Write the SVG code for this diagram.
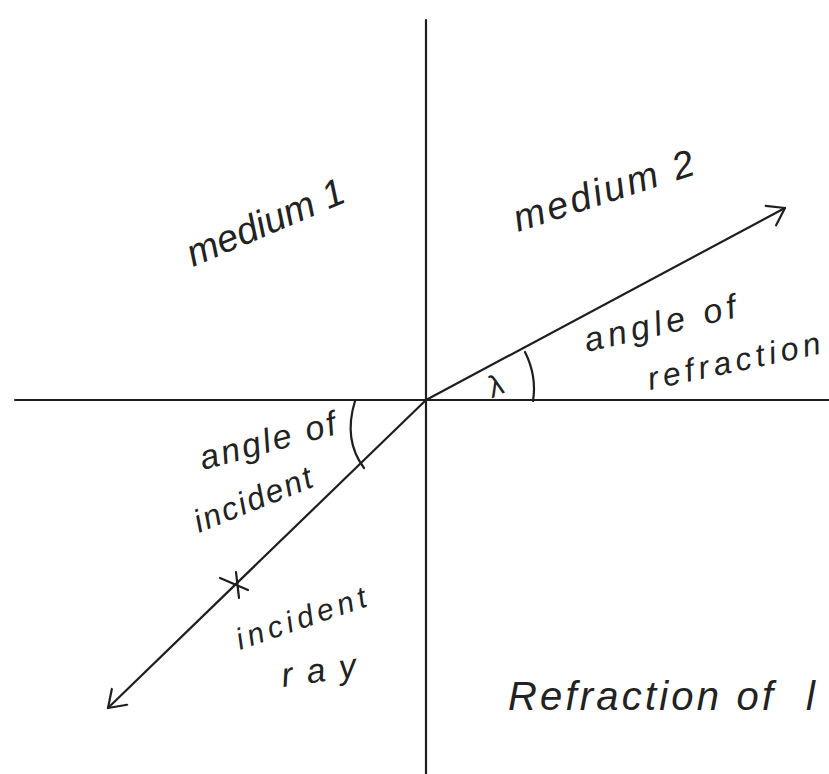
<svg xmlns="http://www.w3.org/2000/svg" width="829" height="774" viewBox="0 0 829 774">
<style>
.ln{stroke:#1e1e1e;stroke-width:2.2;fill:none;stroke-linecap:round;stroke-linejoin:round}
.lbl{font-family:"Liberation Sans",Arial,sans-serif;fill:#222;font-style:italic}
</style>
<defs>
<marker id="open" viewBox="-20 -14 24 28" markerWidth="24" markerHeight="28" refX="0" refY="0" orient="auto" markerUnits="userSpaceOnUse">
<path d="M-16,-11 L0,0 L-16,11" fill="none" stroke="#1e1e1e" stroke-width="2.2" stroke-linecap="round" stroke-linejoin="round"/>
</marker>
</defs>
<rect width="829" height="774" fill="#fff"/>
<g id="axes">
<line class="ln" x1="426" y1="20" x2="426" y2="774"/>
<line class="ln" x1="15" y1="400" x2="829" y2="400"/>
</g>
<g id="connectors">
<line class="ln" x1="426" y1="400" x2="785" y2="208" marker-end="url(#open)"/>
<line class="ln" x1="426" y1="400" x2="108" y2="708" marker-end="url(#open)"/>
<path class="ln" d="M525,352 Q537,376 533,401"/>
<path class="ln" d="M355,401 Q343,440 364,468"/>
<path class="ln" d="M220,578 L248,590 M236,572 L239,598"/>
</g>
<g id="medium1"><text class="lbl" x="193" y="267" font-size="38" textLength="168" transform="rotate(-23 193 267)">medium 1</text></g>
<g id="medium2"><text class="lbl" x="518" y="232" font-size="38" textLength="188" transform="rotate(-18 518 232)">medium 2</text></g>
<g id="angle-refraction">
<text class="lbl" x="587" y="352" font-size="34" textLength="155" transform="rotate(-13 587 352)">angle of</text>
<text class="lbl" x="650" y="390" font-size="32" textLength="176" transform="rotate(-12 650 390)">refraction</text>
<text class="lbl" x="493" y="398" font-size="30" transform="rotate(-25 493 398)">λ</text>
</g>
<g id="angle-incident">
<text class="lbl" x="203" y="470" font-size="34" textLength="140" transform="rotate(-15 203 470)">angle of</text>
<text class="lbl" x="199" y="533" font-size="32" textLength="125" transform="rotate(-22 199 533)">incident</text>
</g>
<g id="incident-ray">
<text class="lbl" x="240" y="650" font-size="30" textLength="136" transform="rotate(-19 240 650)">incident</text>
<text class="lbl" x="283" y="687" font-size="34" textLength="75" transform="rotate(-8 283 687)">ray</text>
</g>
<g id="caption">
<text class="lbl" x="508" y="710" font-size="40" textLength="265">Refraction of</text>
<text class="lbl" x="806" y="710" font-size="40">l</text>
</g>
</svg>
